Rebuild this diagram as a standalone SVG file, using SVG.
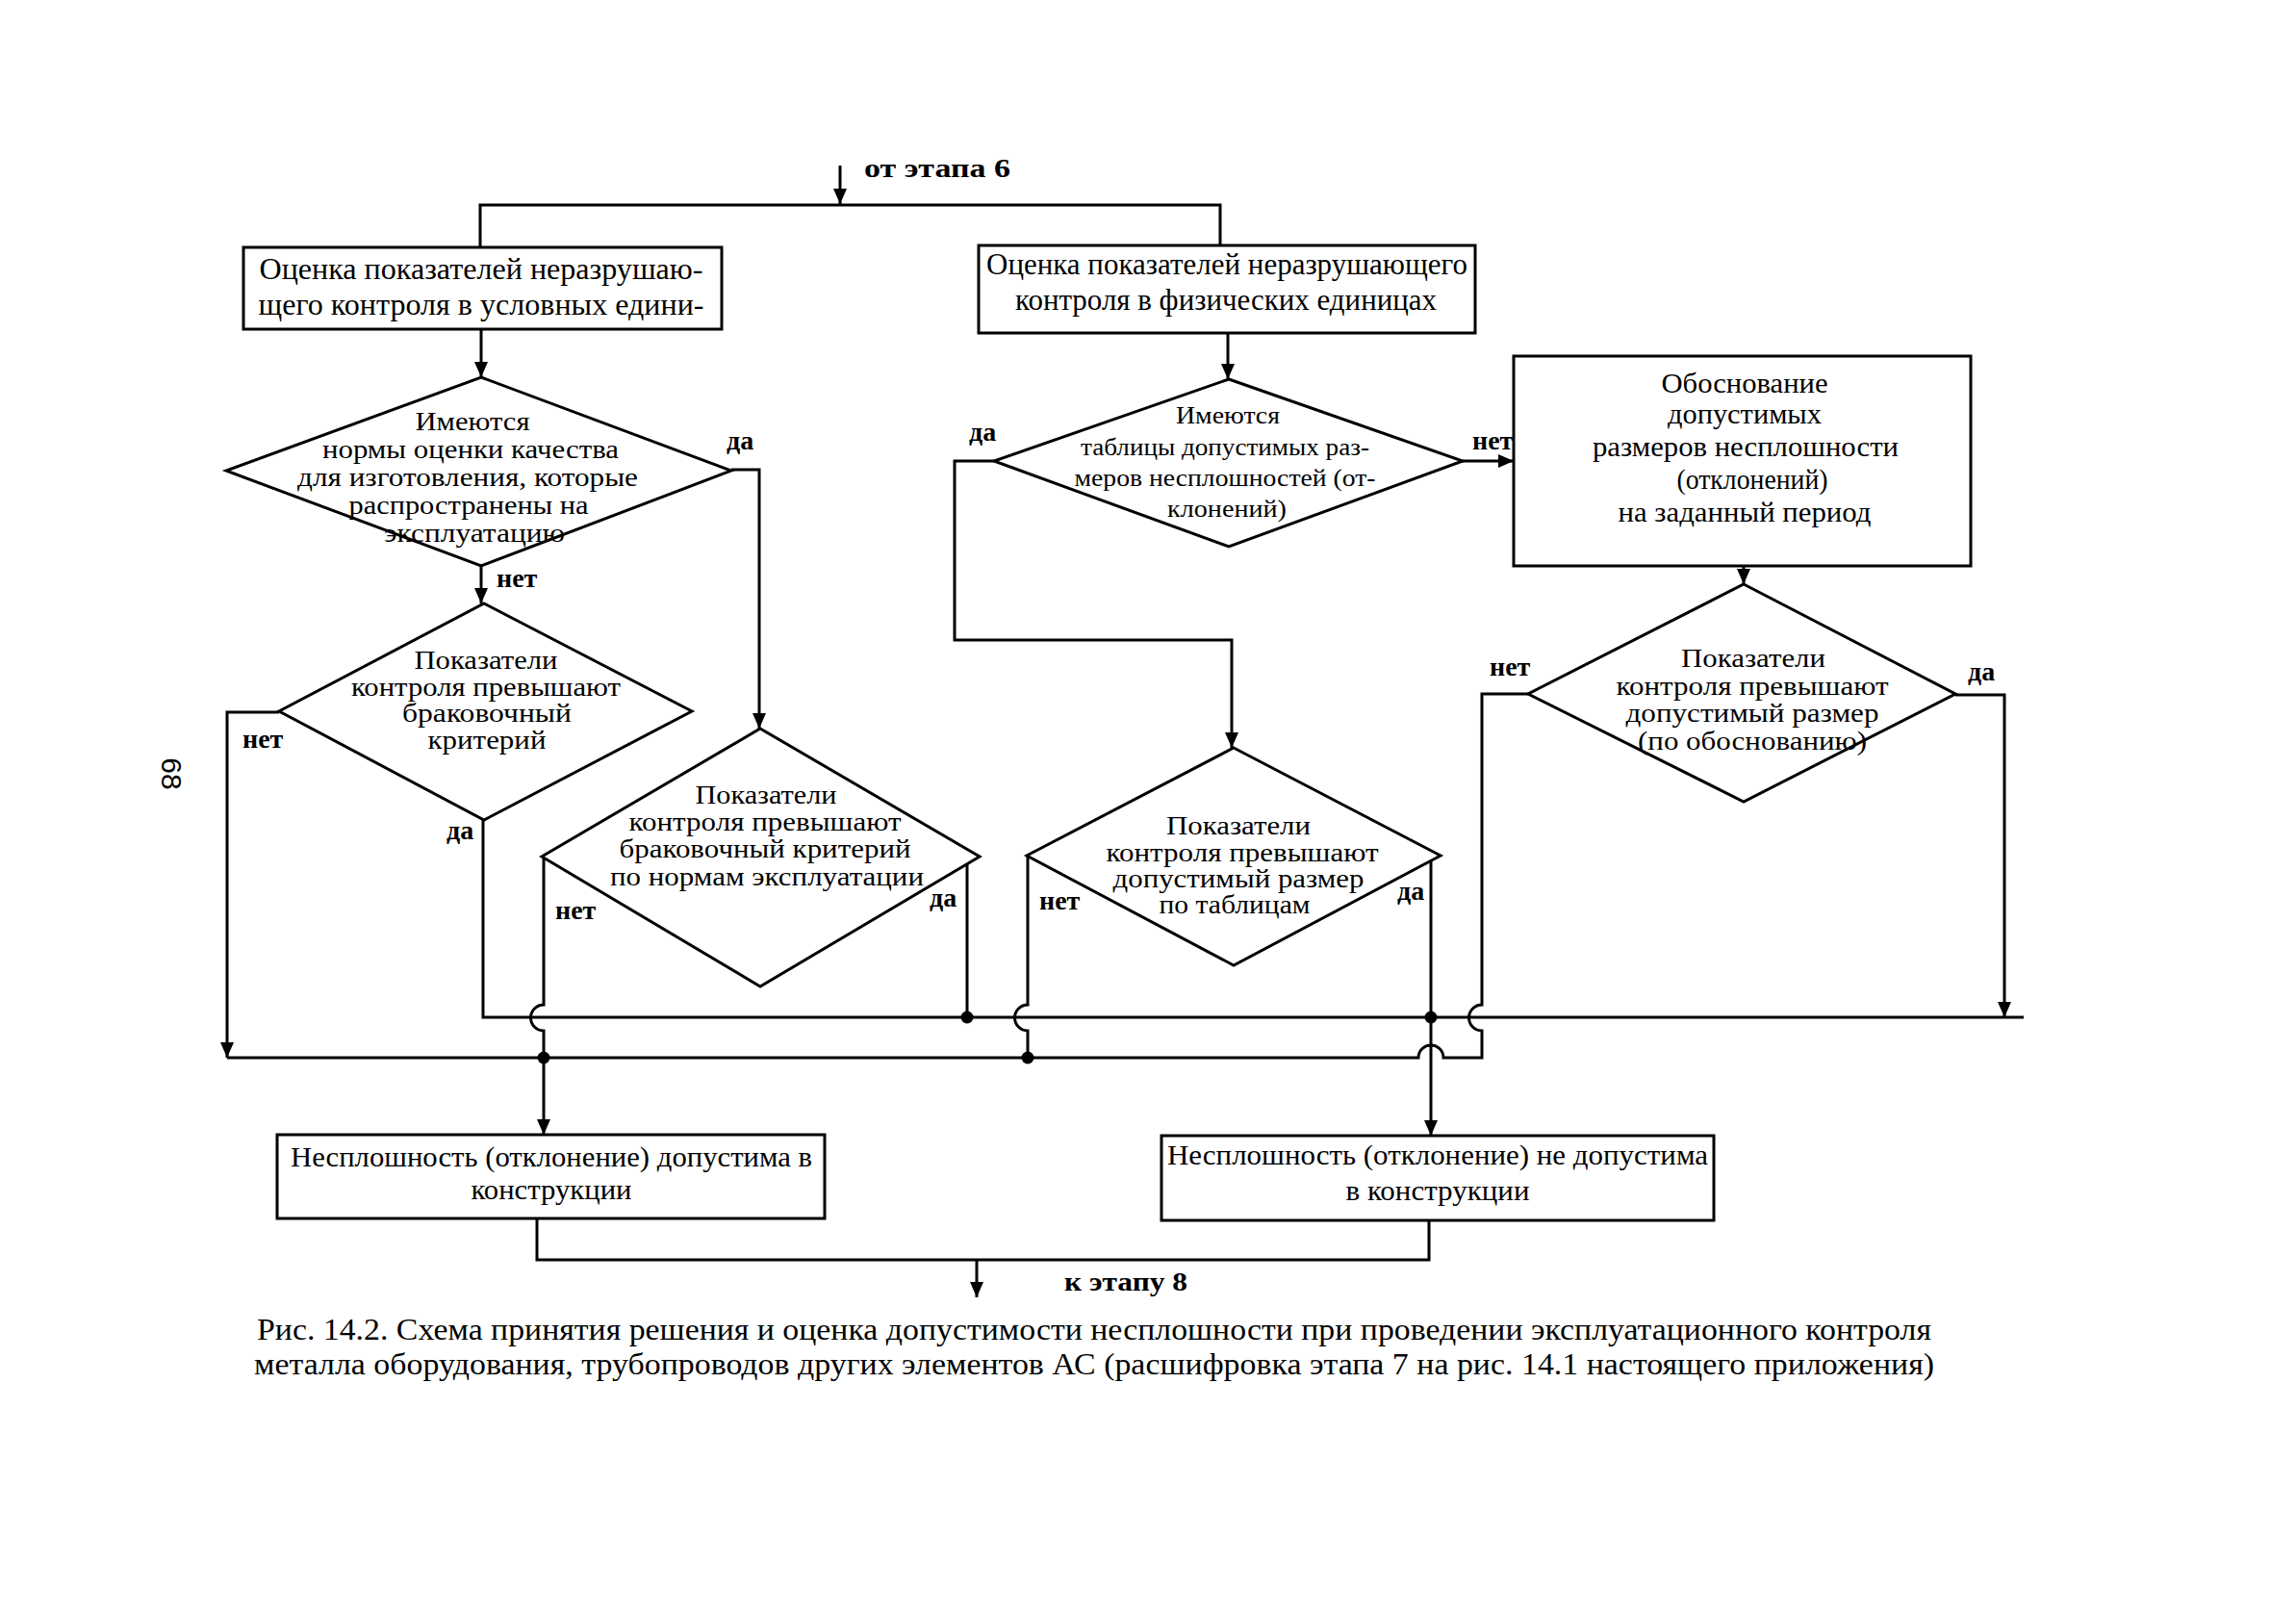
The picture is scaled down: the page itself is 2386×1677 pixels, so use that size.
<svg xmlns="http://www.w3.org/2000/svg" width="2386" height="1677" viewBox="0 0 2386 1677">
<defs>
<style>
.ln{fill:none;stroke:#000;stroke-width:3}
.bx{fill:#fff;stroke:#000;stroke-width:3}
.t{font-family:"Liberation Serif","Times New Roman",serif;font-size:31px;text-anchor:middle;fill:#000}
.td{font-size:27px}
.ts{font-size:25px}
.t3{font-size:29px}
.lb{font-family:"Liberation Serif","Times New Roman",serif;font-size:28px;font-weight:bold;fill:#000}
.cap{font-family:"Liberation Serif","Times New Roman",serif;font-size:31.5px;fill:#000}
</style>
<marker id="ah" viewBox="0 0 16 14" refX="16" refY="7" markerWidth="16" markerHeight="14" markerUnits="userSpaceOnUse" orient="auto"><path d="M0,0 L16,7 L0,14 z" fill="#000"/></marker>
</defs>
<rect width="2386" height="1677" fill="#fff"/>

<g id="connectors">
<path class="ln" d="M873,172 V212" marker-end="url(#ah)"/>
<path class="ln" d="M499,257 V213 H1268 V255"/>
<path class="ln" d="M500,342 V392" marker-end="url(#ah)"/>
<path class="ln" d="M760,488 H789 V757" marker-end="url(#ah)"/>
<path class="ln" d="M500,588 V627" marker-end="url(#ah)"/>
<path class="ln" d="M290,740 H236 V1099" marker-end="url(#ah)"/>
<path class="ln" d="M502,852 V1057 H2103"/>
<path class="ln" d="M565,890 V1044 A13.5,13.5 0 0 0 565,1071 V1179" marker-end="url(#ah)"/>
<path class="ln" d="M1005,898 V1057"/>
<path class="ln" d="M1276,346 V394" marker-end="url(#ah)"/>
<path class="ln" d="M1033,479 H992 V665 H1280 V777" marker-end="url(#ah)"/>
<path class="ln" d="M1520,479 H1573" marker-end="url(#ah)"/>
<path class="ln" d="M1812,588 V607" marker-end="url(#ah)"/>
<path class="ln" d="M1068,889 V1044 A13.5,13.5 0 0 0 1068,1071 V1099"/>
<path class="ln" d="M1487,894 V1180" marker-end="url(#ah)"/>
<path class="ln" d="M1588,721 H1540 V1044 A13.5,13.5 0 0 0 1540,1071 V1099 H1500 A13,13 0 0 0 1474,1099 H236"/>
<path class="ln" d="M2032,722 H2083 V1057" marker-end="url(#ah)"/>
<path class="ln" d="M558,1266 V1309 H1485 V1268"/>
<path class="ln" d="M1015,1309 V1348" marker-end="url(#ah)"/>
<circle cx="565" cy="1099" r="6.5"/>
<circle cx="1005" cy="1057" r="6.5"/>
<circle cx="1068" cy="1099" r="6.5"/>
<circle cx="1487" cy="1057" r="6.5"/>
<text class="lb" x="898" y="184" textLength="152" lengthAdjust="spacingAndGlyphs">от этапа 6</text>
<text class="lb" x="1106" y="1341" textLength="128" lengthAdjust="spacingAndGlyphs">к этапу 8</text>
<text class="lb" x="755" y="467">да</text>
<text class="lb" x="516" y="610">нет</text>
<text class="lb" x="252" y="777">нет</text>
<text class="lb" x="464" y="872">да</text>
<text class="lb" x="577" y="955">нет</text>
<text class="lb" x="966" y="942">да</text>
<text class="lb" x="1007" y="458">да</text>
<text class="lb" x="1530" y="467">нет</text>
<text class="lb" x="1080" y="945">нет</text>
<text class="lb" x="1452" y="935">да</text>
<text class="lb" x="1548" y="702">нет</text>
<text class="lb" x="2045" y="707">да</text>
</g>

<g id="box1">
<rect class="bx" x="253" y="257" width="497" height="85"/>
<text class="t" x="500" y="290" textLength="461" lengthAdjust="spacingAndGlyphs">Оценка показателей неразрушаю-</text>
<text class="t" x="500" y="327" textLength="463" lengthAdjust="spacingAndGlyphs">щего контроля в условных едини-</text>
</g>

<g id="box2">
<rect class="bx" x="1017" y="255" width="516" height="91"/>
<text class="t" x="1275" y="285" textLength="500" lengthAdjust="spacingAndGlyphs">Оценка показателей неразрушающего</text>
<text class="t" x="1274" y="322" textLength="438" lengthAdjust="spacingAndGlyphs">контроля в физических единицах</text>
</g>

<g id="d1">
<polygon class="bx" points="500,392 760,489 500,588 235,489"/>
<text class="t td" x="491" y="447" textLength="119" lengthAdjust="spacingAndGlyphs">Имеются</text>
<text class="t td" x="489" y="476" textLength="308" lengthAdjust="spacingAndGlyphs">нормы оценки качества</text>
<text class="t td" x="486" y="505" textLength="354" lengthAdjust="spacingAndGlyphs">для изготовления, которые</text>
<text class="t td" x="487" y="534" textLength="249" lengthAdjust="spacingAndGlyphs">распространены на</text>
<text class="t td" x="493" y="563" textLength="188" lengthAdjust="spacingAndGlyphs">эксплуатацию</text>
</g>

<g id="d2">
<polygon class="bx" points="503,627 719,739 503,852 290,739"/>
<text class="t td" x="505" y="695" textLength="149" lengthAdjust="spacingAndGlyphs">Показатели</text>
<text class="t td" x="505" y="723" textLength="280" lengthAdjust="spacingAndGlyphs">контроля превышают</text>
<text class="t td" x="506" y="750" textLength="176" lengthAdjust="spacingAndGlyphs">браковочный</text>
<text class="t td" x="506" y="778" textLength="123" lengthAdjust="spacingAndGlyphs">критерий</text>
</g>

<g id="d3">
<polygon class="bx" points="790,757 1018,890 790,1025 563,890"/>
<text class="t td" x="796" y="835" textLength="147" lengthAdjust="spacingAndGlyphs">Показатели</text>
<text class="t td" x="795" y="863" textLength="283" lengthAdjust="spacingAndGlyphs">контроля превышают</text>
<text class="t td" x="795" y="891" textLength="303" lengthAdjust="spacingAndGlyphs">браковочный критерий</text>
<text class="t td" x="797" y="920" textLength="326" lengthAdjust="spacingAndGlyphs">по нормам эксплуатации</text>
</g>

<g id="d4">
<polygon class="bx" points="1277,394 1520,479 1277,568 1033,479"/>
<text class="t ts" x="1276" y="440" textLength="108" lengthAdjust="spacingAndGlyphs">Имеются</text>
<text class="t ts" x="1273" y="473" textLength="300" lengthAdjust="spacingAndGlyphs">таблицы допустимых раз-</text>
<text class="t ts" x="1273" y="505" textLength="313" lengthAdjust="spacingAndGlyphs">меров несплошностей (от-</text>
<text class="t ts" x="1275" y="537" textLength="124" lengthAdjust="spacingAndGlyphs">клонений)</text>
</g>

<g id="box3">
<rect class="bx" x="1573" y="370" width="475" height="218"/>
<text class="t t3" x="1813" y="408" textLength="173" lengthAdjust="spacingAndGlyphs">Обоснование</text>
<text class="t t3" x="1813" y="440" textLength="160" lengthAdjust="spacingAndGlyphs">допустимых</text>
<text class="t t3" x="1814" y="474" textLength="318" lengthAdjust="spacingAndGlyphs">размеров несплошности</text>
<text class="t t3" x="1821" y="508" textLength="157" lengthAdjust="spacingAndGlyphs">(отклонений)</text>
<text class="t t3" x="1813" y="542" textLength="263" lengthAdjust="spacingAndGlyphs">на заданный период</text>
</g>

<g id="d5">
<polygon class="bx" points="1282,777 1497,889 1282,1003 1067,889"/>
<text class="t td" x="1287" y="867" textLength="150" lengthAdjust="spacingAndGlyphs">Показатели</text>
<text class="t td" x="1291" y="895" textLength="283" lengthAdjust="spacingAndGlyphs">контроля превышают</text>
<text class="t td" x="1287" y="922" textLength="261" lengthAdjust="spacingAndGlyphs">допустимый размер</text>
<text class="t td" x="1283" y="949" textLength="157" lengthAdjust="spacingAndGlyphs">по таблицам</text>
</g>

<g id="d6">
<polygon class="bx" points="1812,607 2032,721 1812,833 1588,721"/>
<text class="t td" x="1822" y="693" textLength="150" lengthAdjust="spacingAndGlyphs">Показатели</text>
<text class="t td" x="1821" y="722" textLength="283" lengthAdjust="spacingAndGlyphs">контроля превышают</text>
<text class="t td" x="1821" y="750" textLength="263" lengthAdjust="spacingAndGlyphs">допустимый размер</text>
<text class="t td" x="1821" y="779" textLength="238" lengthAdjust="spacingAndGlyphs">(по обоснованию)</text>
</g>

<g id="box5">
<rect class="bx" x="288" y="1179" width="569" height="87"/>
<text class="t t3" x="573" y="1212" textLength="542" lengthAdjust="spacingAndGlyphs">Несплошность (отклонение) допустима в</text>
<text class="t t3" x="573" y="1246" textLength="167" lengthAdjust="spacingAndGlyphs">конструкции</text>
</g>

<g id="box6">
<rect class="bx" x="1207" y="1180" width="574" height="88"/>
<text class="t t3" x="1494" y="1210" textLength="562" lengthAdjust="spacingAndGlyphs">Несплошность (отклонение) не допустима</text>
<text class="t t3" x="1494" y="1247" textLength="191" lengthAdjust="spacingAndGlyphs">в конструкции</text>
</g>

<g id="caption">
<text class="cap" x="267" y="1392" textLength="1740" lengthAdjust="spacingAndGlyphs">Рис. 14.2. Схема принятия решения и оценка допустимости несплошности при проведении эксплуатационного контроля</text>
<text class="cap" x="264" y="1428" textLength="1746" lengthAdjust="spacingAndGlyphs">металла оборудования, трубопроводов других элементов АС (расшифровка этапа 7 на рис. 14.1 настоящего приложения)</text>
</g>

<g id="pagenum">
<text x="0" y="0" transform="translate(168,804) rotate(90)" style="font-family:'Liberation Sans',Arial,sans-serif;font-size:30px;text-anchor:middle">68</text>
</g>
</svg>
